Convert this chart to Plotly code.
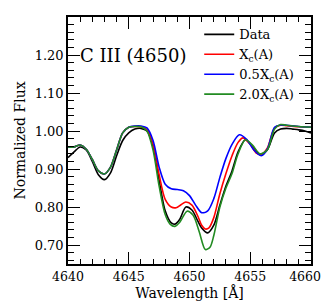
import plotly.graph_objects as go

# ---- data ----
wl_data = [4640.0, 4640.5, 4641.0, 4641.5, 4642.0, 4642.5, 4643.0, 4643.5, 4644.0, 4644.5,
           4645.0, 4645.5, 4646.0, 4646.5, 4647.0, 4647.5, 4648.0, 4648.5, 4648.8, 4649.2,
           4649.7, 4650.2, 4650.7, 4651.0, 4651.5, 4652.0, 4652.5, 4653.0, 4653.5, 4654.0,
           4654.6, 4655.2, 4655.8, 4656.4, 4657.0, 4657.5, 4658.0, 4658.5, 4659.0, 4659.5, 4660.0]
flux_data = [0.930, 0.945, 0.958, 0.950, 0.920, 0.885, 0.872, 0.890, 0.935, 0.975,
             0.995, 1.005, 1.007, 1.000, 0.960, 0.870, 0.790, 0.758, 0.755, 0.768,
             0.800, 0.792, 0.762, 0.745, 0.732, 0.752, 0.805, 0.855, 0.895, 0.945,
             0.977, 0.960, 0.938, 0.950, 0.995, 1.005, 1.007, 1.005, 1.003, 1.000, 0.995]

wl_xc = [4640.0, 4640.5, 4641.0, 4641.5, 4642.0, 4642.5, 4643.0, 4643.5, 4644.0, 4644.5,
         4645.0, 4645.5, 4646.0, 4646.5, 4647.0, 4647.5, 4648.0, 4648.5, 4648.9, 4649.3,
         4649.7, 4650.2, 4650.7, 4651.0, 4651.3, 4651.6, 4652.0, 4652.5, 4653.0, 4653.5,
         4654.0, 4654.4, 4655.0, 4655.5, 4655.9, 4656.4, 4657.0, 4657.5, 4658.0, 4659.0, 4660.0]
flux_xc = [0.958, 0.958, 0.963, 0.952, 0.925, 0.895, 0.887, 0.905, 0.950, 0.995,
           1.010, 1.012, 1.011, 1.004, 0.965, 0.885, 0.820, 0.800, 0.798, 0.806,
           0.813, 0.805, 0.775, 0.752, 0.742, 0.745, 0.772, 0.835, 0.888, 0.935,
           0.970, 0.982, 0.965, 0.942, 0.938, 0.955, 1.008, 1.015, 1.014, 1.011, 1.010]

wl_half = [4640.0, 4640.5, 4641.0, 4641.5, 4642.0, 4642.5, 4643.0, 4643.5, 4644.0, 4644.5,
           4645.0, 4645.5, 4646.0, 4646.5, 4647.0, 4647.5, 4648.0, 4648.5, 4649.0, 4649.5,
           4650.0, 4650.5, 4651.0, 4651.5, 4652.0, 4652.5, 4653.0, 4653.5, 4654.1, 4654.7,
           4655.3, 4655.9, 4656.4, 4657.0, 4657.5, 4658.0, 4659.0, 4660.0]
flux_half = [0.958, 0.958, 0.963, 0.952, 0.925, 0.895, 0.887, 0.905, 0.950, 0.995,
             1.010, 1.013, 1.013, 1.008, 0.975, 0.905, 0.860, 0.848, 0.846, 0.843,
             0.830, 0.805, 0.785, 0.790, 0.822, 0.878, 0.928, 0.965, 0.990, 0.978,
             0.950, 0.935, 0.952, 1.010, 1.016, 1.015, 1.012, 1.010]

wl_two = [4640.0, 4640.5, 4641.0, 4641.5, 4642.0, 4642.5, 4643.0, 4643.5, 4644.0, 4644.5,
          4645.0, 4645.5, 4646.0, 4646.5, 4647.0, 4647.5, 4648.0, 4648.4, 4648.8, 4649.2,
          4649.8, 4650.3, 4650.8, 4651.3, 4651.7, 4652.0, 4652.5, 4653.0, 4653.5, 4654.0,
          4654.6, 4655.2, 4655.8, 4656.4, 4657.0, 4657.5, 4658.0, 4659.0, 4660.0]
flux_two = [0.958, 0.958, 0.963, 0.952, 0.925, 0.895, 0.887, 0.905, 0.950, 0.995,
            1.010, 1.012, 1.011, 1.000, 0.950, 0.855, 0.780, 0.755, 0.749, 0.760,
            0.789, 0.778, 0.735, 0.688, 0.695, 0.725, 0.800, 0.850, 0.888, 0.940,
            0.977, 0.962, 0.940, 0.950, 1.005, 1.017, 1.015, 1.012, 1.010]

series_names = ["Data", "X<sub>c</sub>(A)", "0.5X<sub>c</sub>(A)", "2.0X<sub>c</sub>(A)"]
series_colors = ["#000000", "#ff0000", "#0000ff", "#228b22"]
line_label = "C III (4650)"

x_range = [4640, 4660]
x_tickvals = [4640, 4645, 4650, 4655, 4660]
# last label padded so that it stays inside the window
x_ticktext = ["4640", "4645", "4650", "4655", "4660&nbsp;&nbsp;&nbsp;"]
y_range = [0.65, 1.30]
y_tickvals = [0.70, 0.80, 0.90, 1.00, 1.10, 1.20]
y_ticktext = ["0.70", "0.80", "0.90", "1.00", "1.10", "1.20"]

FONT = "DejaVu Serif"

fig = go.Figure()
all_x = [wl_data, wl_xc, wl_half, wl_two]
all_y = [flux_data, flux_xc, flux_half, flux_two]
for i in range(4):
    fig.add_trace(go.Scatter(x=all_x[i], y=all_y[i], mode="lines", name=series_names[i],
                             line=dict(color=series_colors[i], width=1.6, shape="spline", smoothing=0.8)))

fig.update_layout(
    width=332, height=302,
    margin=dict(l=60, r=17, t=7, b=46),
    paper_bgcolor="white", plot_bgcolor="white",
    font=dict(family=FONT, size=13, color="black"),
    showlegend=True,
    legend=dict(x=0.54, y=0.99, xanchor="left", yanchor="top", bgcolor="rgba(0,0,0,0)",
                font=dict(family=FONT, size=13), tracegroupgap=0, itemwidth=30),
)
fig.update_xaxes(range=x_range, tickmode="array", tickvals=x_tickvals, ticktext=x_ticktext,
                 ticks="inside", ticklen=12, tickwidth=1.2, tickcolor="black",
                 tickfont=dict(family=FONT, size=12.5), ticklabeloverflow="allow",
                 minor=dict(ticks="inside", ticklen=5, dtick=1, tick0=4640, tickwidth=1.2, tickcolor="black", showgrid=False),
                 showline=True, linecolor="black", linewidth=1.5, mirror="allticks",
                 showgrid=False, zeroline=False,
                 title=dict(text="Wavelength [Å]", font=dict(family=FONT, size=14), standoff=4))
fig.update_yaxes(range=y_range, tickmode="array", tickvals=y_tickvals, ticktext=y_ticktext,
                 ticks="inside", ticklen=12, tickwidth=1.2, tickcolor="black",
                 tickfont=dict(family=FONT, size=13),
                 minor=dict(ticks="inside", ticklen=6, dtick=0.02, tick0=0.70, tickwidth=1.2, tickcolor="black", showgrid=False),
                 showline=True, linecolor="black", linewidth=1.5, mirror="allticks",
                 showgrid=False, zeroline=False,
                 title=dict(text="Normalized Flux", font=dict(family=FONT, size=14), standoff=6))
fig.add_annotation(x=0.04, y=1.20, xref="paper", yref="y", text=line_label, showarrow=False,
                   xanchor="left", yanchor="middle", font=dict(family=FONT, size=18))

fig.write_html("out.html", config={"displayModeBar": False})
